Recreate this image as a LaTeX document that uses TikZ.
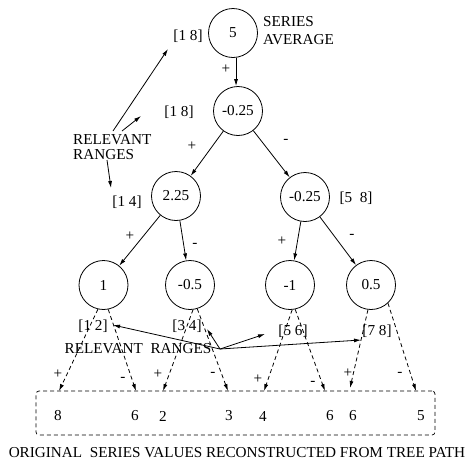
\documentclass[tikz,border=0pt]{standalone}
\usepackage{fontspec}
\setmainfont{Liberation Serif}
\usetikzlibrary{arrows.meta}
\begin{document}
\begin{tikzpicture}[x=1pt,y=-1pt,
  every node/.style={font=\fontsize{15.2}{18}\selectfont, inner sep=0pt},
  val/.style={draw, circle, minimum size=49pt, line width=0.8pt},
  conn/.style={line width=0.8pt, -{Latex[length=7pt,width=4pt]}},
  dconn/.style={conn, dash pattern=on 4pt off 3pt}]
\useasboundingbox (0,0) rectangle (469,464);
% tree nodes
\node[val] (n5) at (233,33) {5};
\node[val] (na) at (238,111) {-0.25};
\node[val] (nb) at (176,196) {2.25};
\node[val] (nc) at (305,197) {-0.25};
\node[val] (nd) at (103.5,285) {1};
\node[val] (ne) at (190,285) {-0.5};
\node[val] (nf) at (290,285) {-1};
\node[val] (ng) at (371,285) {0.5};
% labels upper
\node (r18a) at (188,36) {[1 8]};
\node[anchor=west] (ser) at (263,22) {SERIES};
\node[anchor=west] (avg) at (263,40) {AVERAGE};
\node (r18b) at (179,112) {[1 8]};
\node[anchor=west] (rel) at (73,140) {RELEVANT};
\node[anchor=west] (ran) at (73,155) {RANGES};
\node (r14) at (127,202) {[1 4]};
\node (r58) at (356,198) {[5~~8]};
% signs
\node at (226,69) {+};
\node at (192,146) {+};
\node at (286,141) {-};
\node at (130,236) {+};
\node at (195,245) {-};
\node at (282,241) {+};
\node at (352,236) {-};
% tree edges
\coordinate (t5) at (n5.277);
\draw[conn] (t5) -- (t5 |- na.north);
\draw[conn] (na) -- (nb);
\draw[conn] (na) -- (nc);
\draw[conn] (nb) -- (nd);
\draw[conn] (nb) -- (ne);
\draw[conn] (nc) -- (nf);
\draw[conn] (nc) -- (ng);
% upper relevant range arrows
\coordinate (u1s) at (113,131);
\coordinate (u1e) at (168,49);
\coordinate (u2s) at (122,131);
\coordinate (u2e) at (141,116);
\coordinate (u3s) at (107,160);
\coordinate (u3e) at (111,188);
\draw[conn] (u1s) -- (u1e);
\draw[conn] (u2s) -- (u2e);
\draw[conn] (u3s) -- (u3e);
% lower labels
\node (r12) at (93,326) {[1 2]};
\node (r34) at (187,326) {[3 4]};
\node (r56) at (293,331) {[5 6]};
\node (r78) at (377,331) {[7 8]};
\node (rel2) at (138,349) {RELEVANT~~RANGES};
% box
\node[draw, dash pattern=on 4pt off 3pt, rounded corners=3pt, line width=0.7pt,
      minimum width=399pt, minimum height=44pt] (box) at (235.5,413) {};
% end points on box
\coordinate (e1) at (59,391);
\coordinate (e2) at (136,391);
\coordinate (e3) at (163,391);
\coordinate (e4) at (228,391);
\coordinate (e5) at (264,391);
\coordinate (e6) at (325,391);
\coordinate (e7) at (350,388);
\coordinate (e8) at (416,391);
\draw[dconn] (nd.257) -- (e1);
\draw[dconn] (nd.281) -- (e2);
\draw[dconn] (ne.277) -- (e3);
\draw[dconn] (ne.287) -- (e4);
\draw[dconn] (nf.275) -- (e5);
\draw[dconn] (nf.282) -- (e6);
\draw[dconn] (ng.263) -- (e7);
\draw[dconn] (ng.313) -- (e8);
% lower signs
\node at (58,374) {+};
\node at (123,379) {-};
\node at (158,374) {+};
\node at (213,374) {-};
\node at (258,379) {+};
\node at (313,383) {-};
\node at (348,373) {+};
\node at (400,374) {-};
% lower relevant range arrows
\coordinate (rrs) at (220,349);
\coordinate (l1) at (113,325);
\coordinate (l2) at (207,329);
\coordinate (l3) at (265,334);
\coordinate (l4) at (361,340);
\draw[conn] (rrs) -- (l1);
\draw[conn] (rrs) -- (l2);
\draw[conn] (rrs) -- (l3);
\draw[conn] (rrs) -- (l4);
% values
\node at (58,416) {8};
\node at (135,416) {6};
\node at (163,416) {2};
\node at (229,416) {3};
\node at (263,416) {4};
\node at (330,416) {6};
\node at (353,416) {6};
\node at (421,416) {5};
\node (cap) at (237,453) {ORIGINAL~~SERIES VALUES RECONSTRUCTED FROM TREE PATH};
\end{tikzpicture}
\end{document}
